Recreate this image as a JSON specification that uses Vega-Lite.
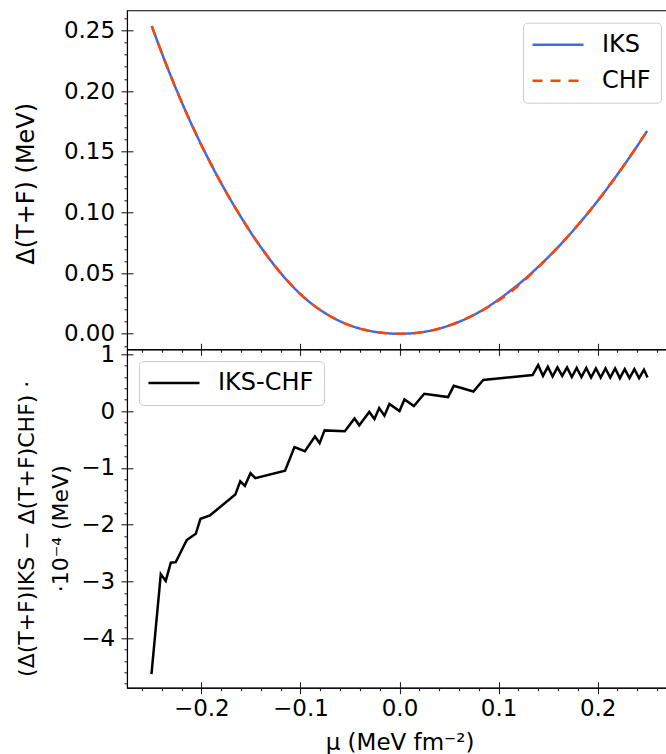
{
  "$schema": "https://vega.github.io/schema/vega-lite/v6.json",
  "autosize": {"type": "pad"},
  "padding": {"left": 13, "top": 9.3, "right": 0, "bottom": 0},
  "background": "white",
  "config": {
    "font": "DejaVu Sans",
    "view": {"stroke": "black", "strokeWidth": 1.1},
    "axis": {
      "labelFont": "DejaVu Sans", "titleFont": "DejaVu Sans",
      "labelFontSize": 23, "titleFontSize": 22,
      "labelColor": "black", "titleColor": "black", "titleFontWeight": "normal",
      "domainColor": "black", "tickColor": "#222222", "domainWidth": 1.1, "tickWidth": 1.1,
      "grid": false, "labelFlush": false, "labelOverlap": false
    },
    "legend": {
      "labelFont": "DejaVu Sans", "labelColor": "black", "labelFontSize": 24
    }
  },
  "datasets": {
    "curves": [
      {"mu": -0.25, "val": 0.2535, "method": "IKS"},
      {"mu": -0.2375, "val": 0.2262, "method": "IKS"},
      {"mu": -0.225, "val": 0.2008, "method": "IKS"},
      {"mu": -0.2125, "val": 0.1773, "method": "IKS"},
      {"mu": -0.2, "val": 0.1556, "method": "IKS"},
      {"mu": -0.1875, "val": 0.1355, "method": "IKS"},
      {"mu": -0.175, "val": 0.1168, "method": "IKS"},
      {"mu": -0.1625, "val": 0.0995, "method": "IKS"},
      {"mu": -0.15, "val": 0.0834, "method": "IKS"},
      {"mu": -0.1375, "val": 0.0686, "method": "IKS"},
      {"mu": -0.125, "val": 0.0551, "method": "IKS"},
      {"mu": -0.1125, "val": 0.0431, "method": "IKS"},
      {"mu": -0.1, "val": 0.0327, "method": "IKS"},
      {"mu": -0.0875, "val": 0.024, "method": "IKS"},
      {"mu": -0.075, "val": 0.017, "method": "IKS"},
      {"mu": -0.0625, "val": 0.0113, "method": "IKS"},
      {"mu": -0.05, "val": 0.0069, "method": "IKS"},
      {"mu": -0.0375, "val": 0.0037, "method": "IKS"},
      {"mu": -0.025, "val": 0.0016, "method": "IKS"},
      {"mu": -0.0125, "val": 0.0004, "method": "IKS"},
      {"mu": 0.0, "val": 0.0, "method": "IKS"},
      {"mu": 0.0125, "val": 0.0004, "method": "IKS"},
      {"mu": 0.025, "val": 0.0016, "method": "IKS"},
      {"mu": 0.0375, "val": 0.0037, "method": "IKS"},
      {"mu": 0.05, "val": 0.0068, "method": "IKS"},
      {"mu": 0.0625, "val": 0.0107, "method": "IKS"},
      {"mu": 0.075, "val": 0.0155, "method": "IKS"},
      {"mu": 0.0875, "val": 0.0213, "method": "IKS"},
      {"mu": 0.1, "val": 0.0282, "method": "IKS"},
      {"mu": 0.1125, "val": 0.0358, "method": "IKS"},
      {"mu": 0.125, "val": 0.0441, "method": "IKS"},
      {"mu": 0.1375, "val": 0.0532, "method": "IKS"},
      {"mu": 0.15, "val": 0.063, "method": "IKS"},
      {"mu": 0.1625, "val": 0.0735, "method": "IKS"},
      {"mu": 0.175, "val": 0.0848, "method": "IKS"},
      {"mu": 0.1875, "val": 0.0968, "method": "IKS"},
      {"mu": 0.2, "val": 0.1095, "method": "IKS"},
      {"mu": 0.2125, "val": 0.1229, "method": "IKS"},
      {"mu": 0.225, "val": 0.137, "method": "IKS"},
      {"mu": 0.2375, "val": 0.1518, "method": "IKS"},
      {"mu": 0.25, "val": 0.1672, "method": "IKS"},
      {"mu": -0.25, "val": 0.2535, "method": "CHF"},
      {"mu": -0.2375, "val": 0.2262, "method": "CHF"},
      {"mu": -0.225, "val": 0.2008, "method": "CHF"},
      {"mu": -0.2125, "val": 0.1773, "method": "CHF"},
      {"mu": -0.2, "val": 0.1556, "method": "CHF"},
      {"mu": -0.1875, "val": 0.1355, "method": "CHF"},
      {"mu": -0.175, "val": 0.1168, "method": "CHF"},
      {"mu": -0.1625, "val": 0.0995, "method": "CHF"},
      {"mu": -0.15, "val": 0.0834, "method": "CHF"},
      {"mu": -0.1375, "val": 0.0686, "method": "CHF"},
      {"mu": -0.125, "val": 0.0551, "method": "CHF"},
      {"mu": -0.1125, "val": 0.0431, "method": "CHF"},
      {"mu": -0.1, "val": 0.0327, "method": "CHF"},
      {"mu": -0.0875, "val": 0.024, "method": "CHF"},
      {"mu": -0.075, "val": 0.017, "method": "CHF"},
      {"mu": -0.0625, "val": 0.0113, "method": "CHF"},
      {"mu": -0.05, "val": 0.0069, "method": "CHF"},
      {"mu": -0.0375, "val": 0.0037, "method": "CHF"},
      {"mu": -0.025, "val": 0.0016, "method": "CHF"},
      {"mu": -0.0125, "val": 0.0004, "method": "CHF"},
      {"mu": 0.0, "val": 0.0, "method": "CHF"},
      {"mu": 0.0125, "val": 0.0004, "method": "CHF"},
      {"mu": 0.025, "val": 0.0016, "method": "CHF"},
      {"mu": 0.0375, "val": 0.0037, "method": "CHF"},
      {"mu": 0.05, "val": 0.0068, "method": "CHF"},
      {"mu": 0.0625, "val": 0.0107, "method": "CHF"},
      {"mu": 0.075, "val": 0.0155, "method": "CHF"},
      {"mu": 0.0875, "val": 0.021, "method": "CHF"},
      {"mu": 0.1, "val": 0.0275, "method": "CHF"},
      {"mu": 0.1125, "val": 0.0346, "method": "CHF"},
      {"mu": 0.125, "val": 0.0431, "method": "CHF"},
      {"mu": 0.1375, "val": 0.0528, "method": "CHF"},
      {"mu": 0.15, "val": 0.063, "method": "CHF"},
      {"mu": 0.1625, "val": 0.0735, "method": "CHF"},
      {"mu": 0.175, "val": 0.0848, "method": "CHF"},
      {"mu": 0.1875, "val": 0.0968, "method": "CHF"},
      {"mu": 0.2, "val": 0.1095, "method": "CHF"},
      {"mu": 0.2125, "val": 0.1229, "method": "CHF"},
      {"mu": 0.225, "val": 0.137, "method": "CHF"},
      {"mu": 0.2375, "val": 0.1518, "method": "CHF"},
      {"mu": 0.25, "val": 0.1672, "method": "CHF"}
    ],
    "diff": [
      {"mu": -0.2503, "d": -4.63, "label": "IKS-CHF"},
      {"mu": -0.2409, "d": -2.87, "label": "IKS-CHF"},
      {"mu": -0.2359, "d": -2.99, "label": "IKS-CHF"},
      {"mu": -0.2308, "d": -2.67, "label": "IKS-CHF"},
      {"mu": -0.2258, "d": -2.66, "label": "IKS-CHF"},
      {"mu": -0.2147, "d": -2.27, "label": "IKS-CHF"},
      {"mu": -0.2056, "d": -2.16, "label": "IKS-CHF"},
      {"mu": -0.2008, "d": -1.895, "label": "IKS-CHF"},
      {"mu": -0.1912, "d": -1.835, "label": "IKS-CHF"},
      {"mu": -0.1657, "d": -1.47, "label": "IKS-CHF"},
      {"mu": -0.1607, "d": -1.235, "label": "IKS-CHF"},
      {"mu": -0.156, "d": -1.315, "label": "IKS-CHF"},
      {"mu": -0.1504, "d": -1.095, "label": "IKS-CHF"},
      {"mu": -0.1455, "d": -1.18, "label": "IKS-CHF"},
      {"mu": -0.1155, "d": -1.05, "label": "IKS-CHF"},
      {"mu": -0.106, "d": -0.635, "label": "IKS-CHF"},
      {"mu": -0.0955, "d": -0.706, "label": "IKS-CHF"},
      {"mu": -0.0853, "d": -0.447, "label": "IKS-CHF"},
      {"mu": -0.0806, "d": -0.564, "label": "IKS-CHF"},
      {"mu": -0.0756, "d": -0.34, "label": "IKS-CHF"},
      {"mu": -0.0552, "d": -0.353, "label": "IKS-CHF"},
      {"mu": -0.0454, "d": -0.13, "label": "IKS-CHF"},
      {"mu": -0.0406, "d": -0.25, "label": "IKS-CHF"},
      {"mu": -0.0305, "d": -0.015, "label": "IKS-CHF"},
      {"mu": -0.0253, "d": -0.14, "label": "IKS-CHF"},
      {"mu": -0.0205, "d": 0.055, "label": "IKS-CHF"},
      {"mu": -0.0152, "d": -0.08, "label": "IKS-CHF"},
      {"mu": -0.0102, "d": 0.125, "label": "IKS-CHF"},
      {"mu": 0.0, "d": 0.0, "label": "IKS-CHF"},
      {"mu": 0.005, "d": 0.205, "label": "IKS-CHF"},
      {"mu": 0.0145, "d": 0.088, "label": "IKS-CHF"},
      {"mu": 0.025, "d": 0.305, "label": "IKS-CHF"},
      {"mu": 0.049, "d": 0.247, "label": "IKS-CHF"},
      {"mu": 0.0548, "d": 0.445, "label": "IKS-CHF"},
      {"mu": 0.0746, "d": 0.345, "label": "IKS-CHF"},
      {"mu": 0.0845, "d": 0.547, "label": "IKS-CHF"},
      {"mu": 0.1343, "d": 0.635, "label": "IKS-CHF"},
      {"mu": 0.1399, "d": 0.81, "label": "IKS-CHF"},
      {"mu": 0.1448, "d": 0.62, "label": "IKS-CHF"},
      {"mu": 0.1497, "d": 0.78, "label": "IKS-CHF"},
      {"mu": 0.1545, "d": 0.61, "label": "IKS-CHF"},
      {"mu": 0.1594, "d": 0.77, "label": "IKS-CHF"},
      {"mu": 0.1642, "d": 0.62, "label": "IKS-CHF"},
      {"mu": 0.1691, "d": 0.77, "label": "IKS-CHF"},
      {"mu": 0.1739, "d": 0.6, "label": "IKS-CHF"},
      {"mu": 0.1788, "d": 0.76, "label": "IKS-CHF"},
      {"mu": 0.1836, "d": 0.6, "label": "IKS-CHF"},
      {"mu": 0.1885, "d": 0.76, "label": "IKS-CHF"},
      {"mu": 0.1933, "d": 0.59, "label": "IKS-CHF"},
      {"mu": 0.1982, "d": 0.75, "label": "IKS-CHF"},
      {"mu": 0.203, "d": 0.59, "label": "IKS-CHF"},
      {"mu": 0.2079, "d": 0.75, "label": "IKS-CHF"},
      {"mu": 0.2127, "d": 0.59, "label": "IKS-CHF"},
      {"mu": 0.2176, "d": 0.75, "label": "IKS-CHF"},
      {"mu": 0.2224, "d": 0.58, "label": "IKS-CHF"},
      {"mu": 0.2273, "d": 0.74, "label": "IKS-CHF"},
      {"mu": 0.2321, "d": 0.58, "label": "IKS-CHF"},
      {"mu": 0.237, "d": 0.74, "label": "IKS-CHF"},
      {"mu": 0.2418, "d": 0.58, "label": "IKS-CHF"},
      {"mu": 0.2467, "d": 0.73, "label": "IKS-CHF"},
      {"mu": 0.2503, "d": 0.59, "label": "IKS-CHF"}
    ]
  },
  "spacing": 0,
  "bounds": "flush",
  "resolve": {"scale": {"x": "independent", "y": "independent", "color": "independent", "strokeDash": "independent"}},
  "vconcat": [
    {
      "width": 545,
      "height": 339,
      "data": {"name": "curves"},
      "resolve": {"axis": {"x": "independent", "y": "independent"}},
      "layer": [
        {
          "mark": {"type": "line", "interpolate": "monotone", "strokeWidth": 2.5},
          "encoding": {
            "x": {"field": "mu", "type": "quantitative",
              "scale": {"domain": [-0.275, 0.275], "nice": false, "zero": false},
              "axis": {"orient": "bottom", "values": [-0.2, -0.1, 0, 0.1, 0.2], "labels": false, "tickSize": 6, "title": null}},
            "y": {"field": "val", "type": "quantitative",
              "scale": {"domain": [-0.0128, 0.2665], "nice": false, "zero": false},
              "axis": {"orient": "left", "values": [0, 0.05, 0.1, 0.15, 0.2, 0.25], "format": ".2f", "tickSize": 6, "labelPadding": 6.4,
                "title": "Δ(T+F) (MeV)", "titleFontSize": 24, "titleX": -100.7, "titleY": 173, "titleAngle": -90, "titleBaseline": "middle", "titleAlign": "center"}},
            "color": {"field": "method", "type": "nominal",
              "scale": {"domain": ["IKS", "CHF"], "range": ["#4169E1", "#FF4500"]},
              "legend": {"orient": "none", "legendX": 396, "legendY": 12.4, "title": null,
                "symbolType": "M-2.55,0H2.55", "symbolSize": 400, "symbolStrokeWidth": 2.5, "symbolOffset": 13,
                "labelOffset": 32, "padding": 10, "rowPadding": 12,
                "strokeColor": "#cccccc", "cornerRadius": 4, "fillColor": "white"}},
            "strokeDash": {"field": "method", "type": "nominal",
              "scale": {"domain": ["IKS", "CHF"], "range": [[1, 0], [10, 8]]},
              "legend": {"orient": "none", "legendX": 396, "legendY": 12.4, "title": null,
                "symbolType": "M-2.55,0H2.55", "symbolSize": 400, "symbolStrokeWidth": 2.5, "symbolOffset": 13,
                "labelOffset": 32, "padding": 10, "rowPadding": 12,
                "strokeColor": "#cccccc", "cornerRadius": 4, "fillColor": "white"}}
          }
        },
        {
          "mark": {"type": "line", "opacity": 0, "strokeOpacity": 0},
          "encoding": {
            "x": {"field": "mu", "type": "quantitative",
              "scale": {"domain": [-0.275, 0.275], "nice": false, "zero": false},
              "axis": {"orient": "bottom", "values": [-0.26, -0.24, -0.22, -0.18, -0.16, -0.14, -0.12, -0.08, -0.06, -0.04, -0.02, 0.02, 0.04, 0.06, 0.08, 0.12, 0.14, 0.16, 0.18, 0.22, 0.24, 0.26], "labels": false, "domain": false, "tickSize": 3, "title": null}},
            "y": {"field": "val", "type": "quantitative",
              "scale": {"domain": [-0.0128, 0.2665], "nice": false, "zero": false},
              "axis": {"orient": "left", "values": [-0.01, 0.01, 0.02, 0.03, 0.04, 0.06, 0.07, 0.08, 0.09, 0.11, 0.12, 0.13, 0.14, 0.16, 0.17, 0.18, 0.19, 0.21, 0.22, 0.23, 0.24, 0.26], "labels": false, "domain": false, "tickSize": 3, "title": null}}
          }
        },
        {
          "mark": {"type": "line", "opacity": 0, "strokeOpacity": 0},
          "encoding": {
            "x": {"field": "mu", "type": "quantitative",
              "scale": {"domain": [-0.275, 0.275], "nice": false, "zero": false},
              "axis": {"orient": "bottom", "values": [-0.2, -0.1, 0, 0.1, 0.2], "labels": false, "domain": false, "tickSize": -6, "title": null}},
            "y": {"field": "val", "type": "quantitative",
              "scale": {"domain": [-0.0128, 0.2665], "nice": false, "zero": false},
              "axis": {"orient": "left", "values": [0, 0.05, 0.1, 0.15, 0.2, 0.25], "labels": false, "domain": false, "tickSize": -6, "title": null}}
          }
        }
      ]
    },
    {
      "width": 545,
      "height": 338.4,
      "data": {"name": "diff"},
      "resolve": {"axis": {"x": "independent", "y": "independent"}},
      "layer": [
        {
          "mark": {"type": "line", "strokeWidth": 2.5},
          "encoding": {
            "x": {"field": "mu", "type": "quantitative",
              "scale": {"domain": [-0.275, 0.275], "nice": false, "zero": false},
              "axis": {"orient": "bottom", "values": [-0.2, -0.1, 0, 0.1, 0.2], "format": ".1f", "tickSize": 6, "labelPadding": 4,
                "title": "μ (MeV fm⁻²)", "titleY": 55, "titleBaseline": "middle", "titleFontSize": 23}},
            "y": {"field": "d", "type": "quantitative",
              "scale": {"domain": [-4.87, 1.088], "nice": false, "zero": false},
              "axis": {"orient": "left", "values": [-4, -3, -2, -1, 0, 1], "format": "d", "tickSize": 6, "labelPadding": 6.4,
                "title": ["(Δ(T+F)IKS − Δ(T+F)CHF) ·", "·10⁻⁴ (MeV)"], "titleLineHeight": 34,
                "titleX": -100.7, "titleY": 179, "titleAngle": -90, "titleBaseline": "middle", "titleAlign": "center"}},
            "color": {"field": "label", "type": "nominal",
              "scale": {"domain": ["IKS-CHF"], "range": ["black"]},
              "legend": {"orient": "none", "legendX": 12, "legendY": 11.7, "title": null,
                "symbolType": "M-2.55,0H2.55", "symbolSize": 400, "symbolStrokeWidth": 2.5, "symbolOffset": 13,
                "labelOffset": 32, "padding": 10,
                "strokeColor": "#cccccc", "cornerRadius": 4, "fillColor": "white"}}
          }
        },
        {
          "mark": {"type": "line", "opacity": 0, "strokeOpacity": 0},
          "encoding": {
            "x": {"field": "mu", "type": "quantitative",
              "scale": {"domain": [-0.275, 0.275], "nice": false, "zero": false},
              "axis": {"orient": "bottom", "values": [-0.26, -0.24, -0.22, -0.18, -0.16, -0.14, -0.12, -0.08, -0.06, -0.04, -0.02, 0.02, 0.04, 0.06, 0.08, 0.12, 0.14, 0.16, 0.18, 0.22, 0.24, 0.26], "labels": false, "domain": false, "tickSize": 3, "title": null}},
            "y": {"field": "d", "type": "quantitative",
              "scale": {"domain": [-4.87, 1.088], "nice": false, "zero": false},
              "axis": {"orient": "left", "values": [-4.8, -4.6, -4.4, -4.2, -3.8, -3.6, -3.4, -3.2, -2.8, -2.6, -2.4, -2.2, -1.8, -1.6, -1.4, -1.2, -0.8, -0.6, -0.4, -0.2, 0.2, 0.4, 0.6, 0.8], "labels": false, "domain": false, "tickSize": 3, "title": null}}
          }
        },
        {
          "mark": {"type": "line", "opacity": 0, "strokeOpacity": 0},
          "encoding": {
            "x": {"field": "mu", "type": "quantitative",
              "scale": {"domain": [-0.275, 0.275], "nice": false, "zero": false},
              "axis": {"orient": "bottom", "values": [-0.2, -0.1, 0, 0.1, 0.2], "labels": false, "domain": false, "tickSize": -6, "title": null}},
            "y": {"field": "d", "type": "quantitative",
              "scale": {"domain": [-4.87, 1.088], "nice": false, "zero": false},
              "axis": {"orient": "left", "values": [-4, -3, -2, -1, 0, 1], "labels": false, "domain": false, "tickSize": -6, "title": null}}
          }
        }
      ]
    }
  ]
}
